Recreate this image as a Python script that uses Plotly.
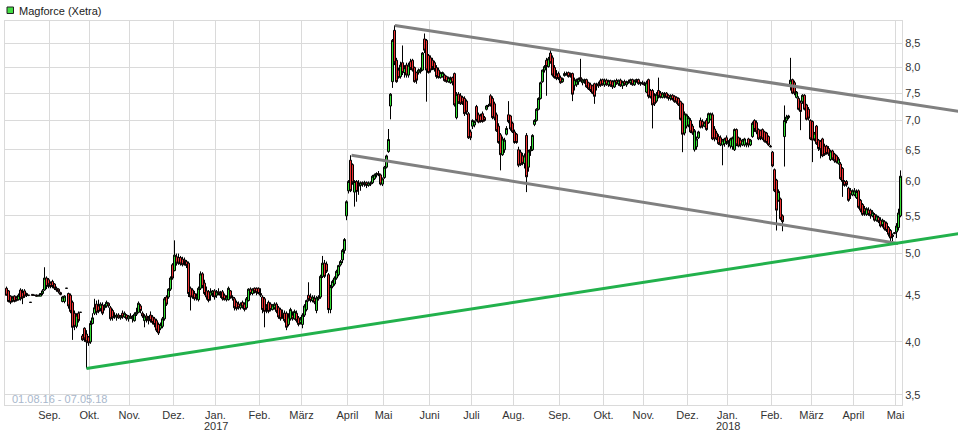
import numpy as np
import plotly.graph_objects as go

# ---------------- data ----------------
months = ["Aug.", "Sep.", "Okt.", "Nov.", "Dez.", "Jan.", "Feb.", "März", "April",
          "Mai", "Juni", "Juli", "Aug.", "Sep.", "Okt.", "Nov.", "Dez.", "Jan.",
          "Feb.", "März", "April", "Mai"]
years = {5: "2017", 17: "2018"}          # month position -> year shown under the label
days_per_month = [22, 20, 20, 22, 21, 22, 21, 23, 18, 23, 21, 21, 23, 22, 20, 22, 20, 22, 20, 21, 21, 3]

open_ = [
    4.58,4.55,4.49,4.44,4.49,4.47,4.45,4.56,4.53,4.55,4.52,4.50,4.42,4.51,4.50,4.50,4.49,4.49,4.52,4.56,4.70,4.68,
    4.64,4.66,4.63,4.58,4.57,4.53,4.43,4.43,4.58,4.52,4.50,4.42,4.30,4.16,4.30,4.31,4.06,4.14,4.08,4.05,
    4.00,4.19,4.30,4.40,4.38,4.35,4.39,4.36,4.38,4.41,4.36,4.33,4.27,4.26,4.28,4.25,4.30,4.26,4.28,4.24,
    4.27,4.24,4.22,4.29,4.31,4.38,4.30,4.22,4.27,4.24,4.28,4.26,4.24,4.22,4.18,4.14,4.16,4.24,4.48,4.48,4.57,4.86,
    4.79,4.96,4.95,4.95,4.93,4.92,4.90,4.88,4.58,4.56,4.52,4.49,4.45,4.58,4.75,4.64,4.55,4.54,4.50,4.52,4.55,
    4.50,4.54,4.52,4.54,4.50,4.45,4.45,4.55,4.48,4.46,4.42,4.40,4.36,4.42,4.40,4.36,4.44,4.57,4.52,4.58,4.58,4.58,
    4.52,4.48,4.46,4.36,4.42,4.40,4.34,4.36,4.40,4.36,4.34,4.30,4.30,4.30,4.18,4.24,4.28,4.24,4.30,4.25,4.20,
    4.18,4.28,4.34,4.50,4.48,4.44,4.46,4.33,4.46,4.48,4.72,4.88,4.87,4.74,4.34,4.60,4.63,4.70,4.74,4.86,4.92,5.04,5.50,
    5.86,6.33,6.26,5.84,6.00,5.95,5.94,5.98,5.96,5.98,5.94,5.97,5.98,6.04,6.10,6.12,6.10,5.96,
    6.06,6.22,6.47,7.26,7.72,8.79,8.15,7.95,7.82,8.10,7.90,8.05,7.85,8.12,8.15,8.00,7.90,7.90,7.92,7.95,8.60,8.57,8.25,
    8.20,8.15,8.10,8.00,7.95,7.80,7.82,7.85,7.82,7.72,7.70,7.80,7.88,7.05,7.48,7.45,7.42,7.40,7.35,7.12,6.80,
    6.90,6.92,7.25,7.10,7.08,7.12,7.05,7.20,7.26,7.45,7.40,7.30,7.10,6.90,6.75,6.42,6.50,6.76,7.10,7.08,6.95,
    6.80,6.76,6.50,6.46,6.40,6.28,6.74,6.22,6.48,6.50,6.93,7.00,7.20,7.40,7.72,7.95,8.15,8.02,8.30,8.20,8.00,7.85,7.88,
    7.80,7.72,7.84,7.88,7.90,7.88,7.88,7.65,7.66,7.72,7.80,7.70,7.72,7.76,7.70,7.66,7.64,7.68,7.64,7.68,7.74,7.76,
    7.66,7.75,7.66,7.74,7.72,7.62,7.74,7.68,7.75,7.64,7.72,7.66,7.72,7.70,7.76,7.66,7.74,7.76,7.68,7.70,
    7.68,7.52,7.76,7.55,7.55,7.45,7.35,7.55,7.50,7.42,7.48,7.50,7.46,7.40,7.46,7.44,7.42,7.40,7.34,7.30,6.78,6.90,
    6.92,7.00,6.90,6.50,6.55,6.70,7.00,6.98,6.90,7.00,6.96,7.02,7.10,6.85,6.78,6.72,6.70,6.58,6.60,6.70,
    6.60,6.56,6.55,6.50,6.84,6.70,6.66,6.58,6.58,6.58,6.68,6.58,6.72,7.00,6.96,6.84,6.82,6.84,6.80,6.78,6.72,6.56,
    6.46,6.18,6.02,5.72,5.74,5.50,6.72,7.00,7.05,7.65,7.76,7.70,7.42,7.40,7.32,7.34,7.46,7.28,7.20,7.00,
    6.98,6.68,6.90,6.66,6.64,6.68,6.56,6.56,6.52,6.34,6.48,6.43,6.40,6.28,6.27,6.20,6.00,6.00,5.90,5.86,5.80,
    5.80,5.76,5.86,5.72,5.66,5.60,5.52,5.58,5.58,5.50,5.52,5.44,5.48,5.44,5.38,5.42,5.40,5.34,5.30,5.24,5.26,
    5.28,5.34,5.50,
]
high = [
    4.60,4.56,4.50,4.49,4.50,4.49,4.52,4.58,4.57,4.57,4.53,4.50,4.42,4.51,4.50,4.51,4.50,4.52,4.57,4.83,4.72,4.70,
    4.66,4.68,4.64,4.60,4.58,4.54,4.49,4.50,4.58,4.53,4.52,4.44,4.33,4.30,4.32,4.31,4.08,4.15,4.12,4.06,
    4.22,4.30,4.46,4.44,4.45,4.42,4.42,4.40,4.44,4.42,4.38,4.35,4.31,4.30,4.30,4.28,4.33,4.32,4.29,4.28,
    4.30,4.28,4.31,4.36,4.43,4.40,4.32,4.29,4.30,4.27,4.32,4.28,4.26,4.24,4.20,4.20,4.26,4.48,4.50,4.58,4.72,4.88,
    5.17,5.00,5.00,4.97,4.96,4.95,4.92,4.90,4.60,4.58,4.55,4.52,4.60,4.78,4.77,4.68,4.60,4.56,4.58,4.56,4.57,
    4.56,4.58,4.55,4.56,4.52,4.50,4.60,4.56,4.50,4.48,4.44,4.43,4.42,4.44,4.42,4.48,4.58,4.59,4.58,4.59,4.59,4.59,
    4.58,4.50,4.48,4.40,4.44,4.42,4.40,4.42,4.42,4.38,4.36,4.34,4.33,4.32,4.30,4.36,4.32,4.34,4.33,4.27,4.26,
    4.30,4.40,4.45,4.65,4.52,4.50,4.50,4.49,4.50,4.74,4.97,4.92,4.90,4.76,4.62,4.68,4.72,4.80,4.86,4.92,5.06,5.20,5.72,
    6.02,6.41,6.28,6.02,6.02,6.02,6.00,6.00,6.01,6.00,6.00,6.00,6.10,6.12,6.14,6.16,6.12,6.06,
    6.24,6.42,6.85,7.50,8.60,8.90,8.20,8.00,8.12,8.46,8.05,8.10,8.10,8.18,8.18,8.02,7.92,7.98,8.00,8.32,8.72,8.60,8.28,
    8.25,8.20,8.14,8.05,8.00,7.92,7.92,7.88,7.84,7.82,7.82,7.82,7.90,7.52,7.52,7.50,7.45,7.44,7.38,7.15,6.84,
    7.02,7.00,7.28,7.14,7.12,7.16,7.08,7.28,7.30,7.48,7.44,7.34,7.14,6.95,6.78,6.72,6.70,6.90,7.35,7.10,6.98,
    6.84,6.78,6.55,6.50,6.45,6.44,6.78,6.50,6.56,6.76,7.02,7.22,7.42,7.72,7.96,8.05,8.20,8.22,8.38,8.25,8.05,7.95,7.92,
    7.84,7.80,7.92,7.92,7.92,7.90,7.90,7.80,7.78,7.80,8.18,7.78,7.78,7.78,7.72,7.70,7.66,7.70,7.70,7.72,7.78,7.78,
    7.78,7.78,7.76,7.76,7.75,7.76,7.78,7.76,7.78,7.74,7.76,7.74,7.76,7.78,7.78,7.76,7.78,7.78,7.72,7.74,
    7.72,7.74,7.78,7.58,7.58,7.50,7.52,7.80,7.54,7.52,7.52,7.52,7.48,7.48,7.48,7.46,7.44,7.42,7.36,7.32,7.16,7.12,
    7.08,7.04,6.94,6.85,6.72,6.82,7.05,7.02,6.98,7.04,7.14,7.14,7.14,6.90,6.82,6.76,6.74,6.68,6.70,6.74,
    6.66,6.70,6.72,6.86,6.86,6.72,6.70,6.68,6.70,6.62,6.70,6.68,6.98,7.02,7.00,6.86,6.84,6.86,6.82,6.80,6.74,6.58,
    6.48,6.20,6.04,5.88,5.76,5.52,7.27,7.10,7.10,8.20,7.78,7.74,7.54,7.44,7.36,7.48,7.48,7.30,7.24,7.02,
    7.00,6.80,6.92,6.68,6.66,6.70,6.60,6.58,6.56,6.50,6.50,6.45,6.42,6.38,6.30,6.22,6.02,6.02,5.92,5.90,5.88,
    5.90,5.88,5.88,5.74,5.68,5.64,5.62,5.62,5.60,5.58,5.54,5.52,5.50,5.48,5.46,5.44,5.42,5.36,5.32,5.26,5.28,
    5.40,5.60,6.17,
]
low = [
    4.50,4.42,4.40,4.42,4.42,4.43,4.44,4.44,4.40,4.47,4.48,4.49,4.42,4.50,4.50,4.49,4.49,4.49,4.50,4.55,4.57,4.58,
    4.58,4.58,4.56,4.54,4.52,4.50,4.42,4.41,4.58,4.35,4.30,4.02,4.12,4.14,4.20,4.31,4.01,4.00,3.74,3.96,
    3.98,4.18,4.28,4.28,4.30,4.32,4.28,4.33,4.36,4.36,4.22,4.22,4.24,4.22,4.24,4.23,4.24,4.25,4.22,4.21,
    4.24,4.20,4.21,4.27,4.30,4.30,4.25,4.15,4.20,4.18,4.20,4.18,4.15,4.10,4.07,4.12,4.14,4.22,4.38,4.46,4.55,4.68,
    4.78,4.85,4.86,4.85,4.84,4.85,4.82,4.48,4.33,4.46,4.44,4.44,4.43,4.56,4.58,4.50,4.45,4.42,4.44,4.48,4.45,
    4.47,4.50,4.47,4.44,4.44,4.43,4.44,4.46,4.44,4.33,4.33,4.34,4.34,4.35,4.32,4.34,4.43,4.50,4.50,4.52,4.50,4.51,
    4.48,4.30,4.15,4.30,4.30,4.32,4.33,4.34,4.30,4.24,4.22,4.24,4.20,4.12,4.16,4.22,4.22,4.23,4.20,4.16,4.18,
    4.14,4.26,4.32,4.43,4.42,4.42,4.40,4.30,4.44,4.46,4.70,4.70,4.76,4.30,4.30,4.58,4.61,4.68,4.72,4.84,4.88,5.00,5.44,
    5.82,5.84,5.95,5.63,5.70,5.80,5.86,5.92,5.92,5.90,5.92,5.93,5.96,6.02,6.06,6.08,5.94,5.93,
    6.04,6.20,6.45,7.02,7.60,8.05,7.70,7.78,7.78,7.85,7.80,7.80,7.80,7.95,7.92,7.70,7.68,7.86,7.88,7.93,8.30,7.34,7.88,
    7.90,7.95,7.92,7.78,7.78,7.78,7.80,7.72,7.70,7.70,7.68,7.65,7.25,7.02,7.30,7.28,7.28,7.08,7.10,6.68,6.66,
    6.85,6.88,6.98,6.95,6.96,6.96,6.98,7.18,7.24,7.25,7.02,7.00,6.80,6.60,6.17,6.40,6.45,6.74,6.95,6.82,6.78,
    6.60,6.60,6.22,6.24,6.25,6.20,5.84,6.15,6.40,6.48,6.90,6.98,7.18,7.38,7.70,7.90,7.45,8.00,8.08,7.82,7.78,7.75,7.75,
    7.68,7.70,7.82,7.84,7.80,7.80,7.35,7.55,7.62,7.66,7.72,7.65,7.68,7.60,7.56,7.52,7.48,7.30,7.55,7.60,7.62,7.64,
    7.62,7.64,7.62,7.62,7.58,7.60,7.66,7.64,7.62,7.58,7.64,7.62,7.68,7.66,7.64,7.64,7.70,7.66,7.64,7.66,
    7.64,7.50,7.40,7.40,6.86,7.26,7.32,7.40,7.40,7.40,7.40,7.40,7.36,7.36,7.36,7.32,7.30,7.26,7.00,6.46,6.74,6.86,
    6.88,6.78,6.75,6.47,6.50,6.68,6.86,6.86,6.88,6.82,6.94,7.00,6.66,6.64,6.66,6.58,6.56,6.25,6.55,6.58,
    6.54,6.52,6.50,6.48,6.56,6.54,6.54,6.56,6.55,6.54,6.54,6.56,6.70,6.80,6.76,6.66,6.66,6.66,6.62,6.60,6.56,6.54,
    6.22,5.84,5.30,5.70,5.44,5.29,6.23,6.95,7.02,7.55,7.48,7.46,7.40,7.18,6.83,7.30,7.18,7.00,7.00,6.66,
    6.30,6.64,6.58,6.48,6.36,6.38,6.40,6.42,6.40,6.32,6.33,6.29,6.28,6.26,6.02,5.77,5.92,5.92,5.70,5.74,5.78,
    5.78,5.74,5.60,5.55,5.50,5.50,5.50,5.50,5.46,5.48,5.42,5.42,5.40,5.34,5.34,5.30,5.28,5.22,5.15,5.16,5.25,
    5.20,5.30,5.48,
]
close = [
    4.50,4.43,4.42,4.47,4.43,4.44,4.50,4.46,4.47,4.49,4.50,4.50,4.42,4.50,4.50,4.49,4.50,4.52,4.55,4.70,4.60,4.62,
    4.60,4.60,4.58,4.56,4.54,4.51,4.48,4.49,4.58,4.38,4.32,4.15,4.16,4.28,4.22,4.31,4.02,4.03,4.00,3.99,
    4.19,4.25,4.36,4.31,4.32,4.40,4.30,4.38,4.42,4.38,4.24,4.25,4.26,4.28,4.25,4.27,4.26,4.30,4.24,4.27,
    4.25,4.26,4.29,4.31,4.41,4.33,4.27,4.27,4.24,4.22,4.22,4.20,4.18,4.12,4.09,4.18,4.24,4.46,4.40,4.57,4.70,4.70,
    4.98,4.88,4.88,4.87,4.86,4.90,4.85,4.52,4.48,4.48,4.46,4.47,4.58,4.75,4.60,4.52,4.48,4.44,4.54,4.55,4.48,
    4.54,4.52,4.50,4.46,4.45,4.48,4.58,4.48,4.47,4.36,4.35,4.36,4.40,4.37,4.34,4.46,4.57,4.52,4.57,4.54,4.53,4.52,
    4.50,4.34,4.32,4.38,4.32,4.34,4.39,4.40,4.32,4.26,4.24,4.28,4.22,4.15,4.26,4.34,4.24,4.32,4.22,4.18,4.24,
    4.28,4.38,4.44,4.45,4.44,4.48,4.42,4.47,4.48,4.72,4.88,4.72,4.78,4.34,4.60,4.66,4.70,4.78,4.85,4.90,5.04,5.18,5.70,
    6.00,5.86,5.98,6.00,5.85,5.93,5.98,5.95,5.98,5.94,5.98,5.96,6.08,6.10,6.12,6.10,5.96,6.04,
    6.22,6.40,6.67,7.48,8.57,8.10,7.72,7.80,8.05,7.90,8.00,7.85,8.05,7.98,7.95,7.72,7.75,7.95,7.96,8.30,8.36,7.95,7.90,
    7.95,8.00,7.96,7.82,7.80,7.90,7.90,7.74,7.72,7.80,7.78,7.70,7.28,7.48,7.32,7.30,7.32,7.12,7.15,6.70,6.70,
    7.00,6.98,7.00,6.97,6.98,6.98,7.00,7.26,7.27,7.28,7.05,7.04,6.82,6.62,6.42,6.68,6.66,6.86,6.98,6.85,6.80,
    6.62,6.62,6.25,6.26,6.28,6.40,6.07,6.48,6.50,6.74,7.00,7.20,7.40,7.70,7.95,8.02,8.02,8.18,8.10,7.85,7.80,7.78,7.78,
    7.70,7.78,7.88,7.86,7.82,7.84,7.48,7.76,7.74,7.78,7.76,7.75,7.76,7.62,7.58,7.55,7.50,7.44,7.66,7.64,7.65,7.66,
    7.75,7.66,7.74,7.64,7.62,7.74,7.68,7.75,7.64,7.72,7.66,7.72,7.70,7.76,7.66,7.74,7.76,7.68,7.70,7.68,
    7.66,7.70,7.44,7.42,7.28,7.30,7.48,7.44,7.42,7.50,7.44,7.42,7.40,7.45,7.38,7.34,7.33,7.28,7.02,6.76,7.12,7.10,
    7.05,6.80,6.78,6.82,6.68,6.80,6.88,6.90,6.96,6.84,7.12,7.12,6.68,6.68,6.68,6.60,6.58,6.66,6.68,6.62,
    6.62,6.68,6.70,6.84,6.58,6.56,6.58,6.66,6.68,6.60,6.58,6.66,6.95,6.84,6.80,6.68,6.70,6.68,6.64,6.62,6.58,6.55,
    6.24,5.86,5.58,5.85,5.46,5.42,7.00,7.06,7.08,7.75,7.50,7.50,7.52,7.20,7.16,7.46,7.20,7.02,7.04,6.68,
    6.66,6.78,6.60,6.52,6.50,6.40,6.42,6.44,6.43,6.48,6.35,6.32,6.30,6.35,6.04,6.00,5.94,5.95,5.72,5.80,5.86,
    5.86,5.85,5.62,5.58,5.52,5.55,5.60,5.52,5.50,5.55,5.44,5.50,5.42,5.36,5.44,5.32,5.30,5.25,5.20,5.22,5.27,
    5.36,5.54,6.08,
]

# trend lines: (trading-day index, price) end points
green_line_x = [40, 476.5]
green_line_y = [3.74, 5.26]
upper_line_x = [194.2, 476.5]
upper_line_y = [8.90, 7.16]
lower_line_x = [172.5, 445.8]
lower_line_y = [6.41, 5.13]

y_ticks = [3.5, 4.0, 4.5, 5.0, 5.5, 6.0, 6.5, 7.0, 7.5, 8.0, 8.5]
date_span = "01.08.16 - 07.05.18"
title = "Magforce (Xetra)"

# ---------------- figure ----------------
n = len(close)
x = list(range(n))
month_starts = np.cumsum([0] + days_per_month[:-1])
tickvals = [s - 0.5 for s in month_starts[1:]]
ticktext = months[1:]

# 2 px per trading day, candle centres on pixel centres
X0 = -0.75
X1 = X0 + 897 / 2.0
Y0, Y1 = 3.41, 9.0

FONT = "Liberation Sans, Arial, sans-serif"
GRID = "#dadada"

fig = go.Figure()
fig.add_trace(go.Candlestick(
    x=x, open=open_, high=high, low=low, close=close,
    increasing=dict(line=dict(color="#000000", width=1), fillcolor="#33dd33"),
    decreasing=dict(line=dict(color="#000000", width=1), fillcolor="#ee3333"),
    whiskerwidth=0, showlegend=False, hoverinfo="skip",
))


def paper_x(v):
    return (v - X0) / (X1 - X0)


shapes = []
for xs, ys, col in [(upper_line_x, upper_line_y, "#808080"),
                    (lower_line_x, lower_line_y, "#808080"),
                    (green_line_x, green_line_y, "#22b14c")]:
    shapes.append(dict(type="line", xref="paper", yref="y",
                       x0=paper_x(xs[0]), x1=paper_x(xs[1]), y0=ys[0], y1=ys[1],
                       line=dict(color=col, width=3), layer="above"))

# legend square
plot_h = 437 - 21 - 32
plot_w = 958 - 5 - 56
shapes.append(dict(type="rect", xref="paper", yref="paper",
                   x0=(7 - 5) / plot_w, x1=(13.5 - 5) / plot_w,
                   y0=1 + (21 - 13.5) / plot_h, y1=1 + (21 - 7) / plot_h,
                   fillcolor="#44dd44", line=dict(color="#222222", width=1)))

annotations = [
    dict(text=title, xref="paper", yref="paper", x=(17 - 5) / plot_w, y=1 + (21 - 10.5) / plot_h,
         xanchor="left", yanchor="middle", showarrow=False,
         font=dict(family=FONT, size=11, color="#222222")),
    dict(text=date_span, xref="paper", yref="paper", x=(10 - 5) / plot_w, y=(405 - 398.5) / plot_h,
         xanchor="left", yanchor="middle", showarrow=False,
         font=dict(family=FONT, size=11, color="#a8b7cc")),
]
for mi, yr in years.items():
    annotations.append(dict(text=yr, xref="x", yref="paper", x=month_starts[mi] - 0.5,
                            y=-(425.5 - 405) / plot_h, xanchor="center", yanchor="middle",
                            showarrow=False, font=dict(family=FONT, size=11, color="#333333")))

fig.update_layout(
    width=958, height=437,
    margin=dict(l=5, r=56, t=21, b=32),
    paper_bgcolor="white", plot_bgcolor="white",
    showlegend=False,
    boxgap=0.0, boxgroupgap=0.0,
    shapes=shapes, annotations=annotations,
    font=dict(family=FONT, size=11, color="#333333"),
    xaxis=dict(
        range=[X0, X1], tickmode="array", tickvals=tickvals, ticktext=ticktext,
        showgrid=True, gridcolor=GRID, gridwidth=1, zeroline=False,
        showline=True, linecolor=GRID, mirror=True, ticks="",
        rangeslider=dict(visible=False), tickfont=dict(size=11, color="#333333"),
        automargin=False,
    ),
    yaxis=dict(
        type="log", range=[np.log10(Y0), np.log10(Y1)], side="right",
        tickmode="array", tickvals=y_ticks, ticktext=[f"{v:.1f}".replace(".", ",") for v in y_ticks],
        showgrid=True, gridcolor=GRID, gridwidth=1, zeroline=False,
        showline=True, linecolor=GRID, mirror=True, ticks="",
        tickfont=dict(size=11, color="#333333"), automargin=False,
    ),
)

fig.write_html("out.html", config={"displayModeBar": False},
               post_script="document.body.style.margin='0';document.body.style.overflow='hidden';")
